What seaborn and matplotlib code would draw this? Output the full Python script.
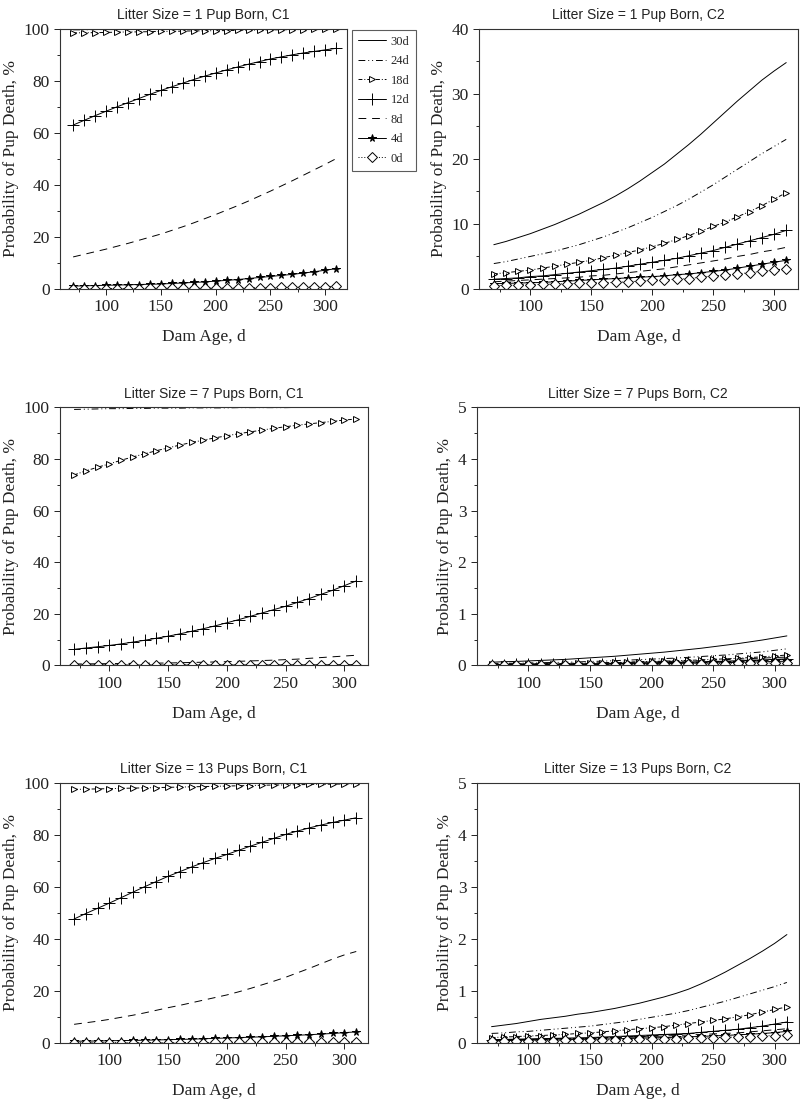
import matplotlib
matplotlib.use("Agg")
import numpy as np
import pandas as pd
import seaborn as sns
import matplotlib.pyplot as plt
from matplotlib.ticker import MultipleLocator

# dam age (d), one value per marker
ages = [70, 80, 90, 100, 110, 120, 130, 140, 150, 160, 170, 180, 190,
        200, 210, 220, 230, 240, 250, 260, 270, 280, 290, 300, 310]
series_names = ['30d', '24d', '18d', '12d', '8d', '4d', '0d']

# ---- Litter size 1, C1 ----
ls1_c1_30d = [99.9, 99.9, 99.9, 99.9, 99.9, 99.9, 99.9, 99.9, 99.9, 99.9, 99.9, 99.9, 100,
              100, 100, 100, 100, 100, 100, 100, 100, 100, 100, 100, 100]
ls1_c1_24d = [99.6, 99.6, 99.7, 99.7, 99.7, 99.8, 99.8, 99.8, 99.8, 99.9, 99.9, 99.9, 99.9,
              99.9, 99.9, 99.9, 100, 100, 100, 100, 100, 100, 100, 100, 100]
ls1_c1_18d = [98.4, 98.5, 98.5, 98.6, 98.7, 98.8, 98.8, 98.9, 99.0, 99.0, 99.1, 99.2, 99.2,
              99.3, 99.3, 99.4, 99.5, 99.5, 99.6, 99.6, 99.7, 99.7, 99.8, 99.8, 99.9]
ls1_c1_12d = [63.0, 64.8, 66.6, 68.3, 70.0, 71.6, 73.2, 74.8, 76.3, 77.7, 79.1, 80.5, 81.8,
              83.0, 84.2, 85.3, 86.4, 87.4, 88.4, 89.2, 90.0, 90.7, 91.3, 91.9, 92.5]
ls1_c1_8d = [12.3, 13.3, 14.3, 15.3, 16.4, 17.5, 18.7, 19.9, 21.1, 22.5, 23.9, 25.4, 27.0,
             28.6, 30.3, 32.0, 33.8, 35.7, 37.6, 39.6, 41.6, 43.7, 45.8, 47.9, 50.1]
ls1_c1_4d = [1.1, 1.2, 1.3, 1.4, 1.5, 1.6, 1.7, 1.8, 1.9, 2.1, 2.3, 2.5, 2.7,
             3.0, 3.3, 3.6, 4.0, 4.4, 4.8, 5.2, 5.6, 6.1, 6.6, 7.2, 7.8]
ls1_c1_0d = [0.1, 0.1, 0.1, 0.1, 0.15, 0.15, 0.15, 0.2, 0.2, 0.2, 0.25, 0.25, 0.3,
             0.3, 0.35, 0.4, 0.4, 0.45, 0.5, 0.55, 0.6, 0.7, 0.8, 0.9, 1.0]

# ---- Litter size 1, C2 ----
ls1_c2_30d = [6.8, 7.3, 7.9, 8.5, 9.2, 9.9, 10.7, 11.5, 12.4, 13.3, 14.3, 15.4, 16.6,
              17.9, 19.2, 20.7, 22.2, 23.8, 25.5, 27.2, 28.9, 30.5, 32.1, 33.5, 34.8]
ls1_c2_24d = [3.9, 4.2, 4.6, 5.0, 5.4, 5.8, 6.3, 6.8, 7.4, 8.0, 8.7, 9.4, 10.2,
              11.0, 11.9, 12.8, 13.8, 14.9, 16.0, 17.2, 18.4, 19.6, 20.8, 21.9, 23.0]
ls1_c2_18d = [2.3, 2.5, 2.7, 2.9, 3.2, 3.5, 3.8, 4.1, 4.4, 4.8, 5.2, 5.6, 6.0,
              6.5, 7.0, 7.6, 8.2, 8.9, 9.6, 10.3, 11.1, 11.9, 12.8, 13.8, 14.8]
ls1_c2_12d = [1.5, 1.6, 1.7, 1.9, 2.0, 2.2, 2.4, 2.6, 2.8, 3.0, 3.2, 3.5, 3.8,
              4.1, 4.4, 4.7, 5.1, 5.5, 5.9, 6.4, 6.9, 7.4, 7.9, 8.4, 9.0]
ls1_c2_8d = [1.1, 1.2, 1.3, 1.4, 1.5, 1.6, 1.7, 1.8, 2.0, 2.1, 2.3, 2.5, 2.7,
             2.9, 3.1, 3.4, 3.7, 4.0, 4.3, 4.6, 5.0, 5.3, 5.7, 6.0, 6.4]
ls1_c2_4d = [0.8, 0.85, 0.9, 0.95, 1.0, 1.1, 1.2, 1.3, 1.4, 1.5, 1.6, 1.7, 1.8,
             1.9, 2.0, 2.2, 2.3, 2.5, 2.7, 2.9, 3.2, 3.5, 3.8, 4.1, 4.4]
ls1_c2_0d = [0.5, 0.55, 0.6, 0.65, 0.7, 0.75, 0.8, 0.85, 0.9, 0.95, 1.0, 1.1, 1.2,
             1.3, 1.4, 1.5, 1.6, 1.8, 2.0, 2.1, 2.3, 2.5, 2.7, 2.9, 3.1]

# ---- Litter size 7, C1 ----
ls7_c1_30d = [100] * 25
ls7_c1_24d = [99.2, 99.3, 99.4, 99.5, 99.5, 99.6, 99.6, 99.7, 99.7, 99.7, 99.8, 99.8, 99.8,
              99.8, 99.9, 99.9, 99.9, 99.9, 99.9, 100, 100, 100, 100, 100, 100]
ls7_c1_18d = [73.8, 75.4, 76.8, 78.1, 79.5, 80.8, 82.0, 83.2, 84.3, 85.4, 86.4, 87.3, 88.2,
              89.0, 89.8, 90.5, 91.2, 91.9, 92.5, 93.1, 93.6, 94.1, 94.6, 95.1, 95.5]
ls7_c1_12d = [6.2, 6.7, 7.2, 7.7, 8.3, 9.0, 9.7, 10.5, 11.3, 12.2, 13.2, 14.2, 15.3,
              16.5, 17.7, 19.0, 20.3, 21.6, 22.9, 24.4, 25.9, 27.5, 29.1, 30.9, 32.7]
ls7_c1_8d = [0.5, 0.55, 0.6, 0.65, 0.7, 0.75, 0.8, 0.85, 0.9, 1.0, 1.1, 1.2, 1.3,
             1.4, 1.55, 1.7, 1.85, 2.0, 2.2, 2.4, 2.7, 3.0, 3.3, 3.6, 3.9]
ls7_c1_4d = [0.05, 0.05, 0.05, 0.05, 0.05, 0.06, 0.06, 0.06, 0.07, 0.07, 0.08, 0.08, 0.09,
             0.1, 0.1, 0.11, 0.12, 0.13, 0.14, 0.15, 0.16, 0.18, 0.2, 0.22, 0.24]
ls7_c1_0d = [0.02, 0.02, 0.02, 0.02, 0.03, 0.03, 0.03, 0.03, 0.03, 0.04, 0.04, 0.04, 0.04,
             0.05, 0.05, 0.05, 0.06, 0.06, 0.06, 0.07, 0.07, 0.08, 0.08, 0.09, 0.1]

# ---- Litter size 7, C2 ----
ls7_c2_30d = [0.06, 0.07, 0.075, 0.085, 0.095, 0.105, 0.115, 0.13, 0.145, 0.16, 0.175, 0.195, 0.215,
              0.235, 0.255, 0.28, 0.305, 0.33, 0.36, 0.39, 0.42, 0.455, 0.49, 0.53, 0.57]
ls7_c2_24d = [0.035, 0.04, 0.04, 0.045, 0.05, 0.055, 0.06, 0.065, 0.075, 0.08, 0.09, 0.1, 0.11,
              0.12, 0.13, 0.14, 0.155, 0.17, 0.185, 0.2, 0.22, 0.24, 0.26, 0.29, 0.32]
ls7_c2_18d = [0.02, 0.025, 0.025, 0.03, 0.03, 0.035, 0.04, 0.04, 0.045, 0.05, 0.055, 0.06, 0.07,
              0.075, 0.08, 0.09, 0.095, 0.105, 0.115, 0.125, 0.135, 0.15, 0.165, 0.18, 0.2]
ls7_c2_12d = [0.015, 0.015, 0.02, 0.02, 0.02, 0.025, 0.025, 0.03, 0.03, 0.035, 0.04, 0.04, 0.045,
              0.05, 0.055, 0.06, 0.065, 0.07, 0.075, 0.08, 0.09, 0.1, 0.105, 0.115, 0.125]
ls7_c2_8d = [0.02, 0.02, 0.025, 0.025, 0.03, 0.03, 0.035, 0.035, 0.04, 0.045, 0.05, 0.055, 0.06,
             0.065, 0.07, 0.08, 0.085, 0.09, 0.1, 0.11, 0.12, 0.13, 0.14, 0.15, 0.16]
ls7_c2_4d = [0.01, 0.01, 0.012, 0.012, 0.014, 0.015, 0.016, 0.018, 0.02, 0.022, 0.024, 0.026, 0.028,
             0.03, 0.033, 0.036, 0.04, 0.044, 0.048, 0.052, 0.057, 0.062, 0.068, 0.074, 0.08]
ls7_c2_0d = [0.005, 0.006, 0.007, 0.008, 0.008, 0.009, 0.01, 0.011, 0.012, 0.013, 0.014, 0.015, 0.017,
             0.019, 0.021, 0.023, 0.025, 0.027, 0.03, 0.033, 0.036, 0.039, 0.042, 0.046, 0.05]

# ---- Litter size 13, C1 ----
ls13_c1_30d = [100] * 25
ls13_c1_24d = [99.9, 99.9, 99.9, 99.9, 99.9, 99.9, 99.9, 100, 100, 100, 100, 100, 100,
               100, 100, 100, 100, 100, 100, 100, 100, 100, 100, 100, 100]
ls13_c1_18d = [97.4, 97.5, 97.6, 97.7, 97.8, 97.9, 98.0, 98.1, 98.2, 98.3, 98.4, 98.5, 98.6,
               98.7, 98.8, 98.9, 99.0, 99.1, 99.1, 99.2, 99.3, 99.4, 99.4, 99.5, 99.6]
ls13_c1_12d = [47.6, 49.7, 51.7, 53.7, 55.8, 57.9, 60.0, 62.0, 64.0, 65.8, 67.6, 69.3, 70.9,
               72.4, 74.0, 75.6, 77.1, 78.6, 80.1, 81.4, 82.6, 83.7, 84.7, 85.6, 86.5]
ls13_c1_8d = [7.1, 7.7, 8.3, 9.0, 9.8, 10.6, 11.5, 12.5, 13.5, 14.4, 15.4, 16.4, 17.4,
              18.4, 19.6, 20.9, 22.3, 23.7, 25.2, 26.9, 28.6, 30.4, 32.2, 33.8, 35.1]
ls13_c1_4d = [0.6, 0.65, 0.7, 0.8, 0.85, 0.9, 1.0, 1.1, 1.2, 1.3, 1.4, 1.55, 1.7,
              1.85, 2.0, 2.15, 2.3, 2.5, 2.7, 2.9, 3.1, 3.35, 3.6, 3.9, 4.2]
ls13_c1_0d = [0.05, 0.05, 0.06, 0.06, 0.07, 0.07, 0.08, 0.08, 0.09, 0.1, 0.1, 0.11, 0.12,
              0.13, 0.14, 0.15, 0.16, 0.17, 0.18, 0.2, 0.21, 0.23, 0.25, 0.27, 0.3]

# ---- Litter size 13, C2 ----
ls13_c2_30d = [0.31, 0.34, 0.37, 0.41, 0.45, 0.48, 0.51, 0.55, 0.58, 0.62, 0.66, 0.71, 0.76,
               0.82, 0.88, 0.95, 1.03, 1.13, 1.24, 1.36, 1.49, 1.62, 1.76, 1.91, 2.08]
ls13_c2_24d = [0.18, 0.19, 0.21, 0.22, 0.24, 0.26, 0.28, 0.30, 0.32, 0.35, 0.38, 0.41, 0.45,
               0.49, 0.53, 0.57, 0.62, 0.68, 0.74, 0.80, 0.87, 0.94, 1.01, 1.08, 1.16]
ls13_c2_18d = [0.10, 0.11, 0.12, 0.13, 0.14, 0.15, 0.16, 0.18, 0.19, 0.21, 0.23, 0.25, 0.27,
               0.29, 0.31, 0.34, 0.37, 0.40, 0.43, 0.46, 0.50, 0.54, 0.59, 0.64, 0.69]
ls13_c2_12d = [0.06, 0.065, 0.07, 0.075, 0.08, 0.085, 0.09, 0.095, 0.1, 0.11, 0.12, 0.13, 0.14,
               0.15, 0.16, 0.17, 0.18, 0.2, 0.22, 0.24, 0.26, 0.29, 0.32, 0.36, 0.4]
ls13_c2_8d = [0.05, 0.055, 0.06, 0.065, 0.07, 0.075, 0.08, 0.085, 0.09, 0.095, 0.1, 0.105, 0.11,
              0.12, 0.13, 0.14, 0.15, 0.16, 0.17, 0.18, 0.19, 0.21, 0.23, 0.25, 0.27]
ls13_c2_4d = [0.04, 0.043, 0.046, 0.05, 0.053, 0.056, 0.06, 0.064, 0.068, 0.072, 0.077, 0.082, 0.088,
              0.094, 0.1, 0.107, 0.115, 0.123, 0.132, 0.142, 0.153, 0.165, 0.178, 0.195, 0.22]
ls13_c2_0d = [0.03, 0.03, 0.035, 0.035, 0.04, 0.04, 0.045, 0.045, 0.05, 0.055, 0.06, 0.06, 0.065,
              0.07, 0.075, 0.08, 0.085, 0.09, 0.1, 0.105, 0.11, 0.12, 0.13, 0.14, 0.15]

titles = ['Litter Size = 1 Pup Born, C1', 'Litter Size = 1 Pup Born, C2',
          'Litter Size = 7 Pups Born, C1', 'Litter Size = 7 Pups Born, C2',
          'Litter Size = 13 Pups Born, C1', 'Litter Size = 13 Pups Born, C2']
y_max = [100, 40, 100, 5, 100, 5]
y_step = [20, 10, 20, 1, 20, 1]

panels = [
    [ls1_c1_30d, ls1_c1_24d, ls1_c1_18d, ls1_c1_12d, ls1_c1_8d, ls1_c1_4d, ls1_c1_0d],
    [ls1_c2_30d, ls1_c2_24d, ls1_c2_18d, ls1_c2_12d, ls1_c2_8d, ls1_c2_4d, ls1_c2_0d],
    [ls7_c1_30d, ls7_c1_24d, ls7_c1_18d, ls7_c1_12d, ls7_c1_8d, ls7_c1_4d, ls7_c1_0d],
    [ls7_c2_30d, ls7_c2_24d, ls7_c2_18d, ls7_c2_12d, ls7_c2_8d, ls7_c2_4d, ls7_c2_0d],
    [ls13_c1_30d, ls13_c1_24d, ls13_c1_18d, ls13_c1_12d, ls13_c1_8d, ls13_c1_4d, ls13_c1_0d],
    [ls13_c2_30d, ls13_c2_24d, ls13_c2_18d, ls13_c2_12d, ls13_c2_8d, ls13_c2_4d, ls13_c2_0d],
]

# line / marker style of each age-at-death curve
styles = {
    '30d': dict(linestyle='-'),
    '24d': dict(linestyle=(0, (7, 3, 1, 3, 1, 3))),
    '18d': dict(linestyle=(0, (4, 2, 1, 2)), marker='>', markersize=4.5, markerfacecolor='white'),
    '12d': dict(linestyle='-', marker='+', markersize=8),
    '8d': dict(linestyle=(0, (8, 6))),
    '4d': dict(linestyle='-', marker='*', markersize=5.5, markerfacecolor='black'),
    '0d': dict(linestyle=(0, (1, 2)), marker='D', markersize=5, markerfacecolor='white'),
}

sns.set_style('ticks')
plt.rcParams['font.family'] = ['Liberation Serif', 'DejaVu Serif']

fig = plt.figure(figsize=(8, 11.07), dpi=100)
# axes boxes in figure fractions (left, bottom, width, height)
boxes = [
    (0.075, 0.739, 0.359, 0.235), (0.599, 0.739, 0.399, 0.235),
    (0.075, 0.399, 0.385, 0.233), (0.596, 0.399, 0.403, 0.233),
    (0.075, 0.058, 0.385, 0.235), (0.596, 0.058, 0.403, 0.235),
]

for i, (box, vals, title, ym, ys) in enumerate(zip(boxes, panels, titles, y_max, y_step)):
    ax = fig.add_axes(box)
    for name, y in zip(series_names, vals):
        df = pd.DataFrame({'age': ages, 'p': y})
        sns.lineplot(data=df, x='age', y='p', ax=ax, color='black', linewidth=0.7,
                     markeredgecolor='black', markeredgewidth=0.7, label=name,
                     legend=False, **styles[name])
    ax.set_xlim(58, 320)
    ax.set_ylim(0, ym)
    ax.set_xticks([100, 150, 200, 250, 300])
    ax.xaxis.set_minor_locator(MultipleLocator(25))
    ax.yaxis.set_major_locator(MultipleLocator(ys))
    ax.yaxis.set_minor_locator(MultipleLocator(ys / 2))
    ax.tick_params(axis='both', which='major', direction='out', length=4, width=0.7,
                   labelsize=12.5, colors='#222222')
    ax.tick_params(axis='both', which='minor', direction='out', length=2.5, width=0.7)
    for sp in ax.spines.values():
        sp.set_visible(True)
        sp.set_linewidth(0.8)
        sp.set_color('#333333')
    ax.set_title(title, fontsize=10, family='Liberation Sans', pad=7, color='#222222')
    ax.set_xlabel('Dam Age, d', fontsize=12.5, labelpad=10, color='#222222')
    ax.set_ylabel('Probability of Pup Death, %', fontsize=12.5, labelpad=3, color='#222222')
    if i == 0:
        handles, labels = ax.get_legend_handles_labels()
        leg = ax.legend(handles, labels, loc='upper left', bbox_to_anchor=(1.017, 0.997),
                        fontsize=9, frameon=True, fancybox=False, handlelength=2.2,
                        handletextpad=0.4, borderpad=0.5, labelspacing=0.6,
                        borderaxespad=0)
        leg.get_frame().set_edgecolor('#333333')
        leg.get_frame().set_linewidth(0.8)

fig.savefig('out.png', dpi=100)
